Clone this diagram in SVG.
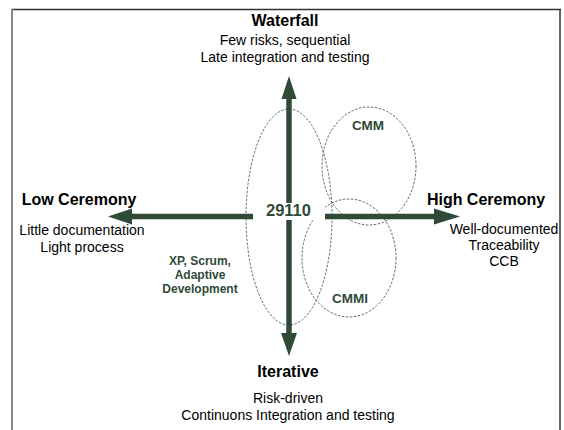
<svg xmlns="http://www.w3.org/2000/svg" width="564" height="430" viewBox="0 0 564 430">
<style>
.t{font-family:"Liberation Sans",Arial,sans-serif;fill:#000;text-anchor:middle}
.h{font-size:16px;font-weight:bold}
.s{font-size:14px}
.g{font-family:"Liberation Sans",Arial,sans-serif;fill:#2f4a37;font-weight:bold;text-anchor:middle}
.ax{stroke:#2f4a37;stroke-width:5.5;fill:none}
.hd{fill:#2f4a37}
.el{fill:none;stroke:#2f4a37;stroke-width:0.8;stroke-dasharray:2.5,1.5}
</style>
<rect width="564" height="430" fill="#fff"/>
<g id="frame">
<line x1="11" y1="9.5" x2="561" y2="9.5" stroke="#333" stroke-width="1.5"/>
<line x1="12" y1="9" x2="12" y2="430" stroke="#888" stroke-width="2"/>
<line x1="560" y1="9" x2="560" y2="430" stroke="#333" stroke-width="1.5"/>
</g>
<g id="ellipses">
<ellipse id="e29110" class="el" cx="289" cy="217" rx="43" ry="108"/>
<ellipse id="ecmm" class="el" cx="369" cy="166" rx="47" ry="59"/>
<ellipse id="ecmmi" class="el" cx="349" cy="258" rx="47" ry="59"/>
</g>
<g id="connectors">
<line class="ax" x1="289" y1="98" x2="289" y2="334"/>
<polygon class="hd" points="289,76 281.5,99 296.5,99"/>
<polygon class="hd" points="289,356 281,333 297,333"/>
<line class="ax" x1="130" y1="216.5" x2="436" y2="216.5"/>
<polygon class="hd" points="108,216.5 132,208.5 132,224.5"/>
<polygon class="hd" points="460,216.5 434,208.5 434,224.5"/>
</g>
<g id="n29110">
<rect x="253" y="203" width="72" height="17" fill="#fff"/>
<text class="g" x="288.5" y="216" font-size="16.5">29110</text>
</g>
<g id="cmm">
<text class="g" x="368" y="130" font-size="13.5">CMM</text>
</g>
<g id="cmmi">
<text class="g" x="350" y="303" font-size="13.5">CMMI</text>
</g>
<g id="agile">
<text class="g" font-size="12"><tspan x="200" y="265">XP, Scrum,</tspan><tspan x="200" y="279">Adaptive</tspan><tspan x="200" y="293">Development</tspan></text>
</g>
<g id="waterfall">
<text class="t h" x="285" y="26">Waterfall</text>
<text class="t s" x="285" y="45">Few risks, sequential</text>
<text class="t s" x="285" y="62">Late integration and testing</text>
</g>
<g id="low">
<text class="t h" x="79" y="205">Low Ceremony</text>
<text class="t s" x="82" y="235">Little documentation</text>
<text class="t s" x="82" y="252">Light process</text>
</g>
<g id="high">
<text class="t h" x="486" y="205">High Ceremony</text>
<text class="t s" x="504" y="234">Well-documented</text>
<text class="t s" x="504" y="250">Traceability</text>
<text class="t s" x="504" y="266">CCB</text>
</g>
<g id="iterative">
<text class="t h" x="288" y="377">Iterative</text>
<text class="t s" x="288" y="403">Risk-driven</text>
<text class="t s" x="288" y="420">Continuons Integration and testing</text>
</g>
</svg>
